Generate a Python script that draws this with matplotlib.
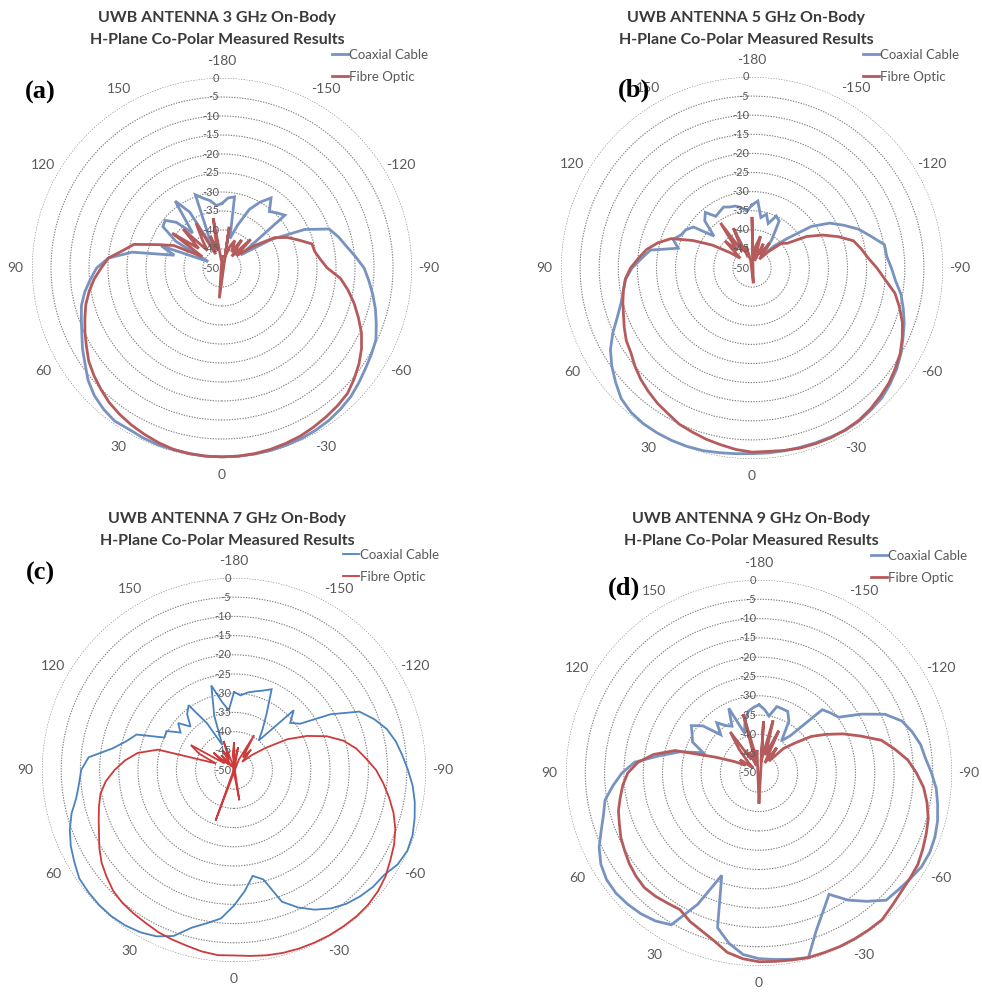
import numpy as np
import matplotlib.pyplot as plt
from matplotlib.transforms import offset_copy
from matplotlib.lines import Line2D

# measured H-plane co-polar patterns (dB), one value every 5 degrees
angles = np.arange(-180, 180, 5)

coax_3 = [-33, -31.5, -31, -42, -38, -33, -30, -27.5, -30.6, -29.5, -28.4, -44,
          -35, -26, -20, -18.3, -16.8, -14.8, -12.6, -11.2, -9.7, -8.2, -6.8, -5.3,
          -4.6, -3.9, -3, -2.1, -1.5, -1, -0.7, -0.5, -0.4, -0.3, -0.3, -0.3,
          -0.3, -0.3, -0.4, -0.5, -0.5, -0.7, -1, -0.8, -1.5, -2.5, -4, -6,
          -7.6, -9.3, -10.6, -11.7, -13.3, -15.2, -17, -20, -26, -37, -33, -46,
          -36, -31, -30.5, -33, -38, -28.5, -33, -44, -29.5, -31, -32, -33.5]
fibre_3 = [-47, -58, -39, -47, -44, -42, -45, -41, -46, -39.3, -45, -40,
           -34, -31, -28.5, -25.5, -25.2, -24, -22.3, -18.7, -16.3, -14, -11.8, -9.5,
           -7.6, -6, -4.6, -3.3, -2.7, -2.2, -1.7, -1.2, -0.9, -0.6, -0.4, -0.3,
           -0.3, -0.3, -0.4, -0.6, -1.1, -1.7, -2.3, -3, -3.8, -4.9, -6, -7.2,
           -8.8, -10.2, -11.6, -12.9, -14.5, -16.2, -18.2, -20, -23.5, -26, -32, -36,
           -44, -34, -42, -35.5, -44, -41, -36.3, -46, -41, -45, -36.7, -48]

coax_5 = [-33.5, -32.4, -36.6, -35.4, -37.6, -35, -35.8, -41, -46, -42, -38, -31,
          -26.5, -23.5, -20.3, -17.8, -14.8, -14.6, -13.5, -12.3, -10.4, -9, -7.6, -6.4,
          -5, -3.8, -2.8, -1.9, -1.5, -1.1, -1, -1.2, -1.3, -1.4, -1.4, -1.4,
          -1.4, -1.2, -0.9, -0.5, -0.3, -0.2, -0.2, -0.3, -0.7, -1.6, -3.4, -5.2,
          -7.2, -9.8, -12.5, -14.5, -15.8, -16.8, -18.6, -21, -23, -30, -28, -29.5,
          -30, -31.3, -37, -32.5, -31, -33.5, -33, -32.4, -33, -33.2, -34, -35]
fibre_5 = [-37, -47, -44, -41.4, -48, -43, -46, -42, -47, -44, -40, -38.7,
           -33.5, -29.6, -26, -22.5, -21, -19.5, -17.3, -15, -12, -10, -8.1, -6.6,
           -5.2, -4.2, -3.2, -2.5, -1.8, -1.3, -1.1, -1, -1.1, -1.2, -1.5, -1.8,
           -1.8, -2.3, -3, -3.6, -4.3, -4.9, -6, -6.8, -7.8, -8.8, -10, -11.3,
           -12, -13.1, -14.2, -15, -15.8, -16.7, -18.2, -20.2, -22, -24.5, -27.5, -33,
           -38, -43, -46, -40, -44, -35.6, -45, -38.5, -47, -44, -48, -54]

coax_7 = [-29.7, -30.5, -29.5, -28.8, -28, -26.8, -33, -37, -40, -28, -30.9, -29,
          -21, -14, -11.2, -8.8, -7.2, -6, -4.7, -3.3, -2.2, -1.3, -0.5, -0.2,
          -0.8, -2.3, -2.7, -3.5, -4.5, -6, -8, -10.5, -13.5, -20.5, -22, -18.3,
          -14.7, -11.2, -9.5, -7.5, -4, -2.2, -1.2, -0.6, -0.3, -0.3, -0.5, -0.8,
          -2, -3.1, -4.5, -6.2, -8.3, -9.5, -10.2, -12, -17.8, -21, -23, -30,
          -29.7, -33, -31, -34, -31, -29.4, -36, -42.8, -35, -27.2, -32, -34.4]
fibre_7 = [-43, -48, -44, -49, -64, -47, -39.5, -46, -43, -47, -44, -40,
           -34, -29, -24.3, -20.5, -17.7, -15.5, -13, -11, -9, -7, -5.3, -4,
           -3, -1.8, -1, -0.5, -0.3, -0.3, -0.3, -0.4, -0.5, -0.7, -1, -1.4,
           -1.7, -1.6, -2, -2.6, -3, -3.4, -4, -4.4, -4.8, -5.5, -6.7, -7.9,
           -9.5, -11.2, -12.5, -13.6, -14.7, -16.5, -18.9, -21.5, -24.5, -29.5, -45, -40,
           -37, -47, -43, -48, -45, -49, -44, -47, -42, -48, -58, -46]

coax_9 = [-32.3, -33.5, -35, -32.2, -32.3, -32.4, -34.5, -39.8, -37.4, -26.8, -25.8, -24.8,
          -19.5, -14, -10.6, -8.9, -7.5, -6.7, -5.3, -3.9, -3, -2.1, -1.5, -1.2,
          -1.4, -2.2, -2.9, -3.4, -6.6, -9.8, -13.7, -10.6, -6.6, -0.5, -1, -1.5,
          -1.9, -2.8, -5.2, -8.5, -21.8, -12.5, -4.6, -3.2, -2.4, -1.9, -1.6, -1.8,
          -2.7, -4.3, -6.5, -8.3, -9.5, -12, -14.5, -17.7, -24, -28.8, -34.6, -31,
          -30, -28.6, -31, -36, -33, -35, -36, -31.5, -39, -36, -33.8, -33]
fibre_9 = [-57.6, -36.6, -47, -35.9, -45, -37.9, -47, -42, -46, -41, -38, -33.5,
           -30, -26, -22, -17.2, -14.3, -11.3, -9.2, -7.2, -5.8, -4.6, -3.9, -3.2,
           -2.5, -2.3, -2, -1.3, -0.4, -0.4, -0.4, -0.4, -0.5, -0.5, -0.8, -1,
           -1.1, -1.7, -2.8, -5, -6.5, -7.6, -9.1, -8.8, -8.3, -8, -8.4, -9,
           -9.8, -10.5, -11.5, -12.3, -13.5, -14.6, -16, -18.5, -22.3, -27.5, -38, -43,
           -46, -44, -48, -46, -42, -37, -46, -44, -48, -34.2, -46, -44]

labels = ['(a)', '(b)', '(c)', '(d)']
freqs = ['3', '5', '7', '9']
coax = [coax_3, coax_5, coax_7, coax_9]
fibre = [fibre_3, fibre_5, fibre_7, fibre_9]
theta_labels = ['0', '30', '60', '90', '120', '150', '-180', '-150', '-120', '-90', '-60', '-30']
rings = np.arange(0, -55, -5)

W, H = 982, 992
# pixel layout of each panel: polar centre, radius, title centre x, top y, legend x, letter position
layout = [
    dict(c=(222, 268), r=190, tx=217, ty=18, lx=332, ly=49, px=40, py=92),
    dict(c=(752, 268), r=191, tx=746, ty=18, lx=863, ly=49, px=634, py=90),
    dict(c=(234, 770), r=192, tx=227, ty=519, lx=343, ly=549, px=40, py=573),
    dict(c=(759, 773), r=193, tx=751, ty=519, lx=871, ly=550, px=624, py=588),
]
styles = [
    dict(blue='#7893c0', red='#b65b5c', lw=2.0),
    dict(blue='#7893c0', red='#b65b5c', lw=2.0),
    dict(blue='#4a82c0', red='#cc3b3a', lw=1.3),
    dict(blue='#7893c0', red='#b65b5c', lw=2.0),
]

sans = 'Lato'
grey = '#595959'


def radar(deg, vals, rmin=-50):
    # close the loop; values under the axis minimum pass through the centre
    deg = np.append(deg, deg[0]).astype(float)
    vals = np.append(vals, vals[0]).astype(float)
    below = vals < rmin
    deg = np.where(below, deg + 180, deg)
    vals = np.where(below, 2 * rmin - vals, vals)
    return np.radians(deg), vals


fig = plt.figure(figsize=(W / 100, H / 100), dpi=100)

for i in range(4):
    L = layout[i]
    st = styles[i]
    cx, cy = L['c']
    r = L['r']
    ax = fig.add_axes([(cx - r) / W, 1 - (cy + r) / H, 2 * r / W, 2 * r / H], projection='polar')
    ax.set_theta_zero_location('S')
    ax.set_theta_direction(-1)

    t, v = radar(angles, coax[i])
    ax.plot(t, v, color=st['blue'], lw=st['lw'], solid_joinstyle='miter', clip_on=False)
    t, v = radar(angles, fibre[i])
    ax.plot(t, v, color=st['red'], lw=st['lw'], solid_joinstyle='miter', clip_on=False)

    ax.set_ylim(-50, 0)
    ax.set_yticks(rings[:-1])
    ax.yaxis.set_ticklabels([])
    ax.yaxis.grid(True, color='#808080', linestyle=(0, (1.2, 1.2)), linewidth=0.8)
    ax.xaxis.grid(False)
    ax.spines['polar'].set_visible(False)
    ax.set_xticks(np.radians(np.arange(0, 360, 30)))
    ax.set_xticklabels(theta_labels, fontfamily=sans, fontsize=10, color=grey)
    ax.tick_params(axis='x', pad=5, length=0)

    off = offset_copy(ax.transData, fig=fig, x=-3, y=0, units='dots')
    for rv in rings:
        ax.text(np.pi, rv, str(rv), transform=off, ha='right', va='center',
                fontsize=8, color=grey, fontfamily=sans)

    fig.text(L['tx'] / W, 1 - L['ty'] / H, 'UWB ANTENNA %s GHz On-Body' % freqs[i],
             ha='center', va='center', fontsize=11.5, fontweight='bold', color='#3a3a3a',
             fontfamily=sans)
    fig.text(L['tx'] / W, 1 - (L['ty'] + 22) / H, 'H-Plane Co-Polar Measured Results',
             ha='center', va='center', fontsize=11.5, fontweight='bold', color='#3a3a3a',
             fontfamily=sans)

    handles = [Line2D([], [], color=st['blue'], lw=st['lw']),
               Line2D([], [], color=st['red'], lw=st['lw'])]
    ax.legend(handles, ['Coaxial Cable', 'Fibre Optic'], loc='upper left',
              bbox_to_anchor=(L['lx'] / W, 1 - L['ly'] / H), bbox_transform=fig.transFigure,
              frameon=False, handlelength=1.2, handletextpad=0.1, labelspacing=0.75,
              borderpad=0, borderaxespad=0, labelcolor=grey,
              prop=dict(family=sans, size=9.5))

    fig.text(L['px'] / W, 1 - L['py'] / H, labels[i], ha='center', va='center',
             fontsize=19, fontweight='bold', fontfamily='Liberation Serif', color='black')

fig.savefig('out.png', dpi=100, facecolor='white')
